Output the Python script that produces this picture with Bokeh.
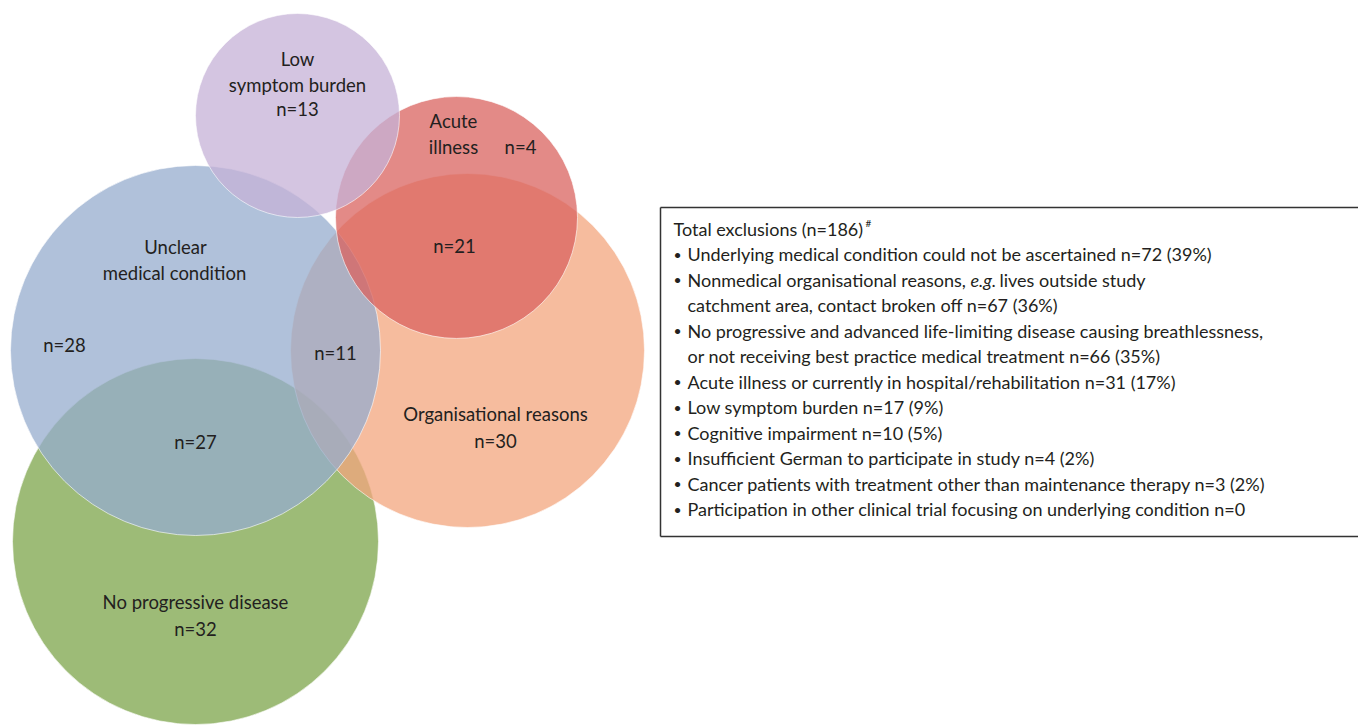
from bokeh.plotting import figure
from bokeh.models import ColumnDataSource, Range1d
from bokeh.embed import file_html
from bokeh.resources import INLINE
from bokeh.core.properties import value

# ---- data -------------------------------------------------------------
set_names = ["No progressive disease", "Organisational reasons",
             "Unclear medical condition", "Acute illness", "Low symptom burden"]
set_colors = ["#7ca44a", "#f3a67e", "#96acce", "#da635f", "#c6b2d7"]
circle_x = [195, 467, 195, 456, 297]
circle_y = [541, 350, 350, 217, 115]
circle_r = [183, 177, 185, 121, 102]

region_labels = ["Low", "symptom burden", "n=13",
                 "Acute", "illness", "n=4",
                 "n=21",
                 "Unclear", "medical condition",
                 "n=28", "n=11",
                 "Organisational reasons", "n=30",
                 "n=27",
                 "No progressive disease", "n=32"]
label_x = [297, 297, 297, 453, 453, 520, 454, 175, 174, 64, 335, 495, 495, 195, 195, 195]
label_y = [58, 84, 108, 120, 146, 146, 245, 246, 272, 344, 352, 413, 440, 441, 601, 628]

legend_title = "Total exclusions (n=186)"
legend_lines = [
    "Underlying medical condition could not be ascertained n=72 (39%)",
    "Nonmedical organisational reasons,",
    "catchment area, contact broken off n=67 (36%)",
    "No progressive and advanced life-limiting disease causing breathlessness,",
    "or not receiving best practice medical treatment n=66 (35%)",
    "Acute illness or currently in hospital/rehabilitation n=31 (17%)",
    "Low symptom burden n=17 (9%)",
    "Cognitive impairment n=10 (5%)",
    "Insufficient German to participate in study n=4 (2%)",
    "Cancer patients with treatment other than maintenance therapy n=3 (2%)",
    "Participation in other clinical trial focusing on underlying condition n=0",
]
legend_bullet = [True, True, False, True, False, True, True, True, True, True, True]

# ---- figure -----------------------------------------------------------
W, H = 1358, 725
p = figure(width=W, height=H, output_backend="svg", toolbar_location=None,
           x_range=Range1d(0, W), y_range=Range1d(H, 0),
           min_border=0)
p.axis.visible = False
p.grid.visible = False
p.outline_line_color = None
p.background_fill_color = "white"

FONT = value("Lato")
FS = "18px"
TXT = "#231f20"

src = ColumnDataSource(dict(x=circle_x, y=circle_y, r=circle_r,
                            c=set_colors, name=set_names))
p.circle(x="x", y="y", radius="r", source=src, fill_color="c",
         fill_alpha=0.75, line_color="white", line_alpha=0.6, line_width=1)

lsrc = ColumnDataSource(dict(x=label_x, y=label_y, t=region_labels))
p.text(x="x", y="y", text="t", source=lsrc, text_font=FONT,
       text_font_size="18.5px", text_color=TXT, text_align="center",
       text_baseline="middle")

# legend box (open on the right, like the reference)
p.segment(x0=[660, 660, 660], y0=[207, 207, 536],
          x1=[1400, 660, 1400], y1=[207, 536, 536],
          line_color="#333333", line_width=1.5)

line_step = 25.5
y0 = 228
p.text(x=[673], y=[y0], text=[legend_title], text_font=FONT,
       text_font_size=FS, text_color=TXT, text_baseline="middle")
p.text(x=[865], y=[y0 - 6], text=["#"], text_font=FONT,
       text_font_size="10px", text_color=TXT, text_baseline="middle")

ly = [y0 + line_step * (i + 1) for i in range(len(legend_lines))]
p.text(x=[687] * len(legend_lines), y=ly, text=legend_lines, text_font=FONT,
       text_font_size=FS, text_color=TXT, text_baseline="middle")
by = [y for y, b in zip(ly, legend_bullet) if b]
p.text(x=[673] * len(by), y=by, text=["\u2022"] * len(by), text_font=FONT,
       text_font_size="14px", text_color=TXT, text_baseline="middle")

# italic e.g. inside the second item
p.text(x=[970], y=[ly[1]], text=["e.g."], text_font=FONT,
       text_font_size=FS, text_font_style="italic", text_color=TXT,
       text_baseline="middle")
p.text(x=[999], y=[ly[1]], text=[" lives outside study"], text_font=FONT,
       text_font_size=FS, text_color=TXT, text_baseline="middle")

open("out.html", "w").write(file_html(p, INLINE))
